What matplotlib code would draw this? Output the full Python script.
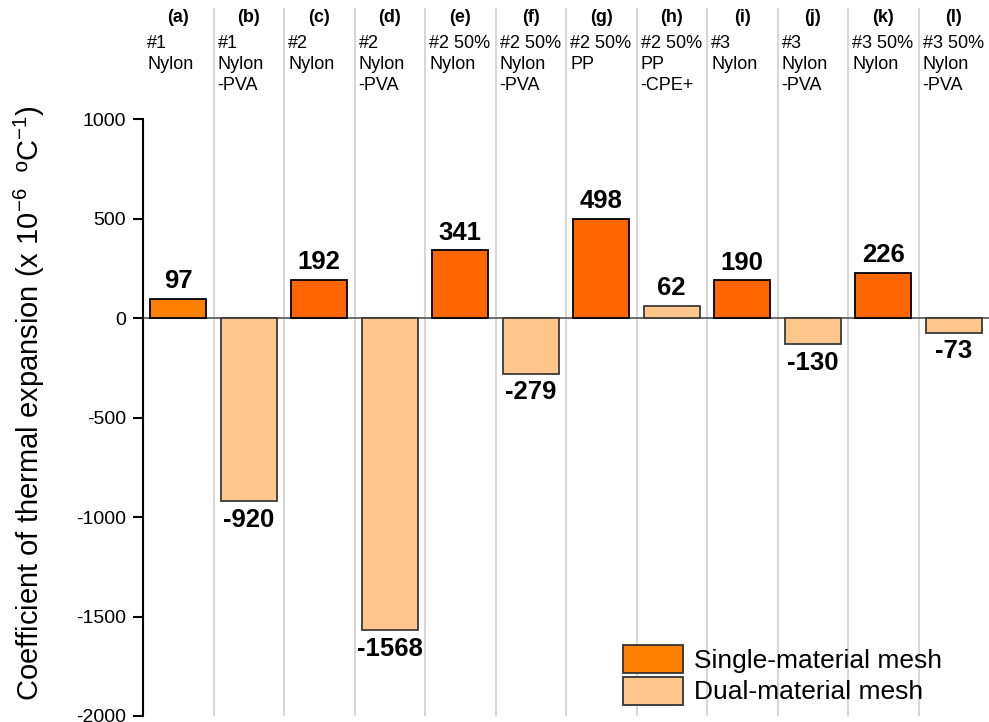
import numpy as np
import matplotlib
matplotlib.use("Agg")
from matplotlib import pyplot as plt
from matplotlib.patches import Patch

plt.rcParams['font.family'] = ['Liberation Sans', 'DejaVu Sans']
plt.rcParams['mathtext.fontset'] = 'custom'
plt.rcParams['mathtext.rm'] = 'Liberation Sans'
plt.rcParams['mathtext.it'] = 'Liberation Sans:italic'
plt.rcParams['axes.unicode_minus'] = False

## Data
letters = ['(a)', '(b)', '(c)', '(d)', '(e)', '(f)', '(g)', '(h)', '(i)', '(j)', '(k)', '(l)']
headers = ['#1\nNylon', '#1\nNylon\n-PVA', '#2\nNylon', '#2\nNylon\n-PVA',
           '#2 50%\nNylon', '#2 50%\nNylon\n-PVA', '#2 50%\nPP', '#2 50%\nPP\n-CPE+',
           '#3\nNylon', '#3\nNylon\n-PVA', '#3 50%\nNylon', '#3 50%\nNylon\n-PVA']
cte = [97, -920, 192, -1568, 341, -279, 498, 62, 190, -130, 226, -73]
mesh = ['single', 'dual', 'single', 'dual', 'single', 'dual',
        'single', 'dual', 'single', 'dual', 'single', 'dual']

single_col = '#FF6600'
single_col_a = '#FF7F00'
dual_col = '#FFC68C'

#%%
fig = plt.figure(figsize=(9.89, 7.22), dpi=100)
ax = fig.add_axes([143/989, 6/722, 1 - 143/989, 1 - 14/722])

x = np.arange(len(cte))
colors = [dual_col if m == 'dual' else single_col for m in mesh]
colors[0] = single_col_a
edges = ['#3a3a3a' if m == 'dual' else 'black' for m in mesh]
ax.bar(x, cte, width=0.8, color=colors, edgecolor=edges, linewidth=1.3, zorder=3)

ymax = 1558
ax.set_xlim(-0.5, len(cte) - 0.5)
ax.set_ylim(-2000, ymax)

# column separators
for xs in x[:-1] + 0.5:
    ax.axvline(xs, color='#cfcfcf', lw=1.2, zorder=1)
ax.axhline(0, color='#555555', lw=1.2, zorder=2)

# value labels
for xi, v in zip(x, cte):
    if v >= 0:
        ax.annotate(str(v), (xi, v), xytext=(0, 4), textcoords='offset points',
                    ha='center', va='bottom', fontsize=18.5, fontweight='bold')
    else:
        ax.annotate(str(v), (xi, v), xytext=(0, -5), textcoords='offset points',
                    ha='center', va='top', fontsize=18.5, fontweight='bold')

# header labels
for xi, l, h in zip(x, letters, headers):
    ax.text(xi, 1510, l, ha='center', va='center', fontsize=13, fontweight='bold')
    ax.text(xi - 0.44, 1422, h, ha='left', va='top', fontsize=13, linespacing=1.3)

ax.spines['top'].set_visible(False)
ax.spines['right'].set_visible(False)
ax.spines['bottom'].set_visible(False)
ax.spines['left'].set_bounds(-2000, 1000)
ax.spines['left'].set_linewidth(1.5)
ax.set_xticks([])
ax.set_yticks([-2000, -1500, -1000, -500, 0, 500, 1000])
ax.tick_params(axis='y', direction='out', length=7, width=1.5, labelsize=14, pad=5)
ax.set_ylabel('Coefficient of thermal expansion (x 10$^{-6}$  ºC$^{-1}$)', fontsize=21)
ax.yaxis.set_label_coords(-0.113, 0.442)

handles = [Patch(facecolor=single_col_a, edgecolor='#333333', lw=1.3, label='Single-material mesh'),
           Patch(facecolor=dual_col, edgecolor='#333333', lw=1.3, label='Dual-material mesh')]
ax.legend(handles=handles, loc='upper left', bbox_to_anchor=(599/989, 1 - 621/722),
          bbox_transform=fig.transFigure, frameon=False, fontsize=19,
          handlelength=2.3, handleheight=1.25, handletextpad=0.4, labelspacing=0.15)

plt.savefig('out.png', dpi=100)
